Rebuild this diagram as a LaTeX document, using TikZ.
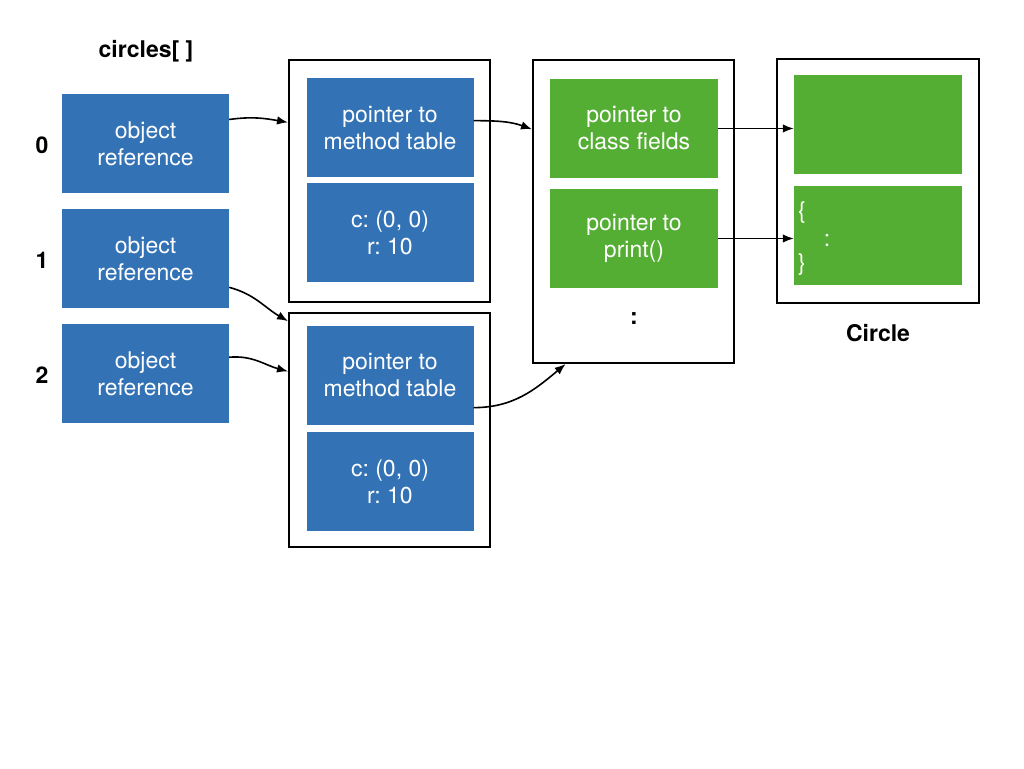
\documentclass[tikz,border=0pt]{standalone}
\usepackage{fontspec}
\setmainfont{TeX Gyre Heros}
\usetikzlibrary{arrows.meta}
\definecolor{refblue}{RGB}{51,115,181}
\definecolor{clsgreen}{RGB}{85,174,52}
\frenchspacing
\begin{document}
\begin{tikzpicture}[x=1pt,y=1pt,
  every node/.style={font=\fontsize{23}{27}\selectfont,inner sep=0pt},
  cell/.style={fill=refblue,text=white,align=center,minimum width=167pt,minimum height=99pt},
  gcell/.style={cell,fill=clsgreen,minimum width=168pt},
  frame/.style={draw,line width=2pt,minimum width=201pt},
  lbl/.style={font=\fontsize{23}{27}\selectfont\bfseries},
  ptr/.style={-{Latex[length=11pt,width=8.5pt]},line width=1.6pt}]
\useasboundingbox (0,0) rectangle (1024,768);
% array of references
\node[lbl] (arr) at (146,717) {circles[ ]};
\foreach \i/\y in {0/624.5,1/509.5,2/394.5}{
  \node[cell] (r\i) at (145.5,\y) {object\\reference};
  \node[lbl] (n\i) at (42,\y-1.5) {\i};
}
% objects
\node[frame,minimum height=242pt] (b1) at (389.5,587) {};
\node[cell] (p1) at (390,640) {pointer to\\method table};
\node[cell] (d1) at (390,535) {c: (0, 0)\\r: 10};
\node[frame,minimum height=234pt] (b2) at (389.5,338) {};
\node[cell] (p2) at (390,392.5) {pointer to\\method table};
\node[cell] (d2) at (390,286.5) {c: (0, 0)\\r: 10};
% method table
\node[frame,minimum height=303pt] (v) at (633.5,556.5) {};
\node[gcell] (cf) at (634,639.5) {pointer to\\class fields};
\node[gcell] (pr) at (634,529.5) {pointer to\\print()};
\node[lbl] (vdots) at (634,449) {:};
% class
\node[frame,minimum width=202pt,minimum height=244pt] (c) at (878,587) {};
\node[gcell] (c1) at (878,643.5) {};
\node[gcell] (c2) at (878,532.5) {};
\node[text=white] (lb) at (802,555) {\{};
\node[text=white] (cd) at (827,528) {:};
\node[text=white] (rb) at (802,503) {\}};
\node[lbl] (cname) at (878,435) {Circle};
% pointers
\draw[ptr] (r0.16) to[out=8,in=170] (b1.150);
\draw[ptr] (r1.341) to[out=-15,in=150] (b2.133);
\draw[ptr] (r2.11) to[out=5,in=165] (b2.150);
\draw[ptr] (p1.5) to[out=0,in=160] (v.141);
\draw[ptr] (p2.339) to[out=0,in=220] (v.246);
\draw[ptr] (cf.east) -- (cf.east -| c1.west);
\draw[ptr] (pr.east) -- (pr.east -| c2.west);
\end{tikzpicture}
\end{document}
